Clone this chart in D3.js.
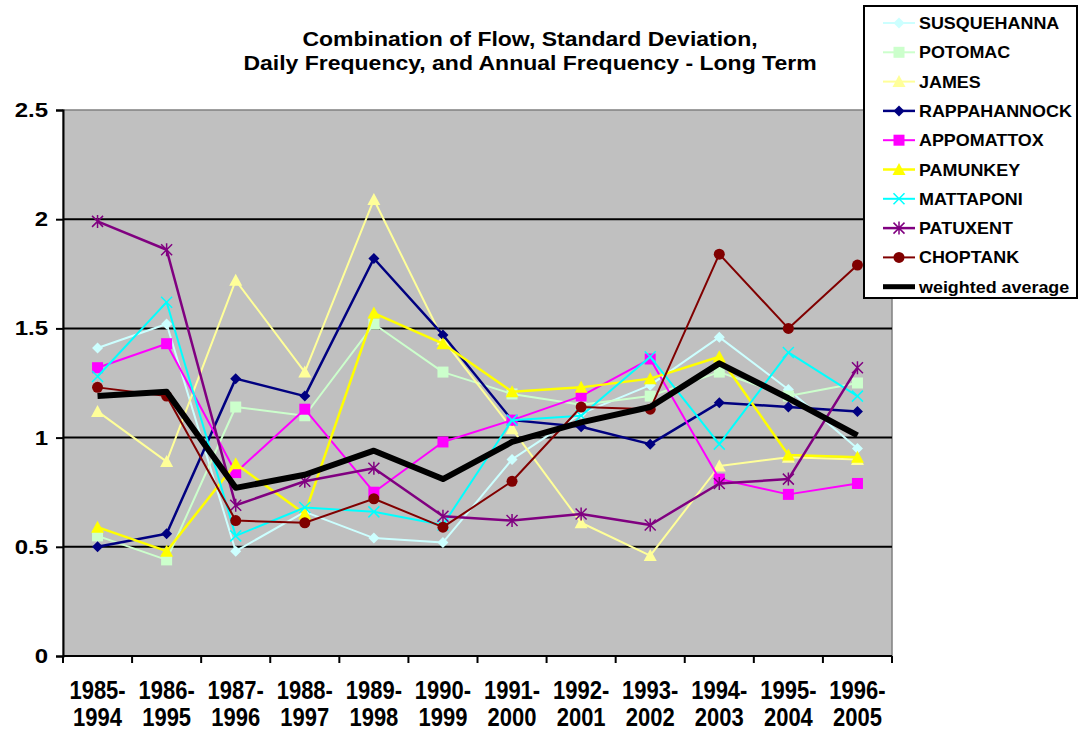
<!DOCTYPE html>
<html>
<head>
<meta charset="utf-8">
<script src="https://cdn.jsdelivr.net/npm/d3@7"></script>
<style>
  body { margin: 0; background: #fff; }
  text { font-family: Arial, "Liberation Sans", sans-serif; font-weight: bold; fill: #000; }
</style>
</head>
<body>
<div id="chart"></div>
<script>
// periods on the x axis (two lines each)
var periods = [
  ["1985-", "1994"], ["1986-", "1995"], ["1987-", "1996"], ["1988-", "1997"],
  ["1989-", "1998"], ["1990-", "1999"], ["1991-", "2000"], ["1992-", "2001"],
  ["1993-", "2002"], ["1994-", "2003"], ["1995-", "2004"], ["1996-", "2005"]
];
var yTicks = [0, 0.5, 1, 1.5, 2, 2.5];

var susquehanna  = [1.41, 1.52, 0.48, 0.66, 0.54, 0.52, 0.90, 1.11, 1.24, 1.46, 1.22, 0.95];
var potomac      = [0.55, 0.44, 1.14, 1.10, 1.52, 1.30, 1.20, 1.15, 1.19, 1.30, 1.19, 1.25];
var james        = [1.12, 0.89, 1.72, 1.30, 2.09, 1.45, 1.04, 0.61, 0.46, 0.87, 0.91, 0.90];
var rappahannock = [0.50, 0.56, 1.27, 1.19, 1.82, 1.47, 1.08, 1.05, 0.97, 1.16, 1.14, 1.12];
var appomattox   = [1.32, 1.43, 0.84, 1.13, 0.75, 0.98, 1.08, 1.19, 1.36, 0.81, 0.74, 0.79];
var pamunkey     = [0.59, 0.48, 0.88, 0.65, 1.57, 1.43, 1.21, 1.23, 1.27, 1.37, 0.92, 0.91];
var mattaponi    = [1.28, 1.62, 0.55, 0.68, 0.66, 0.60, 1.08, 1.10, 1.37, 0.97, 1.39, 1.19];
var patuxent     = [1.99, 1.86, 0.69, 0.80, 0.86, 0.64, 0.62, 0.65, 0.60, 0.79, 0.81, 1.32];
var choptank     = [1.23, 1.19, 0.62, 0.61, 0.72, 0.59, 0.80, 1.14, 1.13, 1.84, 1.50, 1.79];
var weighted     = [1.19, 1.21, 0.77, 0.83, 0.94, 0.81, 0.98, 1.07, 1.14, 1.34, 1.18, 1.01];

var series = [
  {name: "SUSQUEHANNA", values: susquehanna, color: "#CCFFFF", marker: "diamond", w: 2},
  {name: "POTOMAC", values: potomac, color: "#CCFFCC", marker: "square", w: 2},
  {name: "JAMES", values: james, color: "#FFFF99", marker: "triangle", w: 2},
  {name: "RAPPAHANNOCK", values: rappahannock, color: "#000080", marker: "diamond", w: 2.5},
  {name: "APPOMATTOX", values: appomattox, color: "#FF00FF", marker: "square", w: 2},
  {name: "PAMUNKEY", values: pamunkey, color: "#FFFF00", marker: "triangle", w: 2.5},
  {name: "MATTAPONI", values: mattaponi, color: "#00FFFF", marker: "x", w: 2},
  {name: "PATUXENT", values: patuxent, color: "#800080", marker: "star", w: 2.5},
  {name: "CHOPTANK", values: choptank, color: "#800000", marker: "circle", w: 2},
  {name: "weighted average", values: weighted, color: "#000000", marker: null, w: 6}
];

var W = 1079, H = 730;
var plot = {left: 63, top: 110, right: 892, bottom: 656};

var svg = d3.select("#chart").append("svg")
  .attr("width", W).attr("height", H);

var x = d3.scaleBand()
  .domain(d3.range(periods.length))
  .range([plot.left, plot.right]);

var y = d3.scaleLinear()
  .domain([0, 2.5])
  .range([plot.bottom, plot.top]);

// plot background
svg.append("rect")
  .attr("x", plot.left).attr("y", plot.top)
  .attr("width", plot.right - plot.left).attr("height", plot.bottom - plot.top)
  .attr("fill", "#C0C0C0").attr("stroke", "#808080").attr("stroke-width", 1.5);

// gridlines
svg.append("g").selectAll("line")
  .data(yTicks.filter(function(d){ return d > 0 && d < 2.5; }))
  .enter().append("line")
  .attr("x1", plot.left).attr("x2", plot.right)
  .attr("y1", function(d){ return y(d); }).attr("y2", function(d){ return y(d); })
  .attr("stroke", "#000").attr("stroke-width", 2);

// y axis
var yAxis = svg.append("g")
  .attr("transform", "translate(" + plot.left + ",0)")
  .call(d3.axisLeft(y).tickValues(yTicks).tickSize(7).tickPadding(8)
    .tickFormat(function(d){ return d; }));
yAxis.select(".domain").attr("stroke", "#000").attr("stroke-width", 2);
yAxis.selectAll(".tick line").attr("stroke", "#000").attr("stroke-width", 2);
yAxis.selectAll(".tick text")
  .style("font-size", "20px").style("font-family", "Arial, 'Liberation Sans', sans-serif")
  .style("font-weight", "bold").attr("fill", "#000")
  .attr("x", -12.5)
  .attr("transform", "scale(1.2,1)");

// x axis: ticks at category boundaries
var xAxisG = svg.append("g");
xAxisG.append("line")
  .attr("x1", plot.left).attr("x2", plot.right)
  .attr("y1", plot.bottom).attr("y2", plot.bottom)
  .attr("stroke", "#000").attr("stroke-width", 2);
xAxisG.selectAll(".xt")
  .data(d3.range(periods.length + 1))
  .enter().append("line")
  .attr("x1", function(i){ return i < periods.length ? x(i) : x.range()[1]; })
  .attr("x2", function(i){ return i < periods.length ? x(i) : x.range()[1]; })
  .attr("y1", plot.bottom).attr("y2", plot.bottom + 7)
  .attr("stroke", "#000").attr("stroke-width", 2);

var xl = xAxisG.selectAll(".xl")
  .data(periods)
  .enter().append("text")
  .attr("text-anchor", "middle")
  .style("font-size", "22px")
  .attr("transform", function(d, i){
    return "translate(" + (x(i) + x.bandwidth()/2) + ",0) scale(1,1.15)";
  });
xl.append("tspan").attr("x", 0).attr("y", 699/1.15).text(function(d){ return d[0]; });
xl.append("tspan").attr("x", 0).attr("y", 726/1.15).text(function(d){ return d[1]; });

// title
svg.append("text").attr("text-anchor", "middle")
  .attr("transform", "translate(530,46) scale(1.15,1)")
  .style("font-size", "20px").text("Combination of Flow, Standard Deviation,");
svg.append("text").attr("text-anchor", "middle")
  .attr("transform", "translate(530,70) scale(1.15,1)")
  .style("font-size", "20px").text("Daily Frequency, and Annual Frequency - Long Term");

var line = d3.line()
  .x(function(d, i){ return x(i) + x.bandwidth()/2; })
  .y(function(d){ return y(d); });

function drawMarker(g, type, color, cx, cy) {
  var s = 5.5;
  if (type === "diamond") {
    g.append("path").attr("d", "M" + cx + "," + (cy - s) + "L" + (cx + s) + "," + cy +
      "L" + cx + "," + (cy + s) + "L" + (cx - s) + "," + cy + "Z").attr("fill", color);
  } else if (type === "square") {
    g.append("rect").attr("x", cx - s).attr("y", cy - s).attr("width", 2*s).attr("height", 2*s)
      .attr("fill", color);
  } else if (type === "triangle") {
    g.append("path").attr("d", "M" + cx + "," + (cy - s - 1) + "L" + (cx + s + 1) + "," + (cy + s) +
      "L" + (cx - s - 1) + "," + (cy + s) + "Z").attr("fill", color);
  } else if (type === "circle") {
    g.append("circle").attr("cx", cx).attr("cy", cy).attr("r", s).attr("fill", color);
  } else if (type === "x") {
    g.append("path").attr("d", "M" + (cx - s) + "," + (cy - s) + "L" + (cx + s) + "," + (cy + s) +
      "M" + (cx + s) + "," + (cy - s) + "L" + (cx - s) + "," + (cy + s))
      .attr("stroke", color).attr("stroke-width", 1.5).attr("fill", "none");
  } else if (type === "star") {
    g.append("path").attr("d", "M" + (cx - s) + "," + (cy - s) + "L" + (cx + s) + "," + (cy + s) +
      "M" + (cx + s) + "," + (cy - s) + "L" + (cx - s) + "," + (cy + s) +
      "M" + cx + "," + (cy - s - 1) + "L" + cx + "," + (cy + s + 1))
      .attr("stroke", color).attr("stroke-width", 1.5).attr("fill", "none");
  }
}

series.forEach(function(s){
  var g = svg.append("g");
  g.append("path").datum(s.values)
    .attr("d", line)
    .attr("fill", "none").attr("stroke", s.color).attr("stroke-width", s.w)
    .attr("stroke-linejoin", "round");
  if (s.marker) {
    s.values.forEach(function(v, i){
      drawMarker(g, s.marker, s.color, x(i) + x.bandwidth()/2, y(v));
    });
  }
});

// legend
var lg = svg.append("g");
lg.append("rect").attr("x", 864).attr("y", 6).attr("width", 213).attr("height", 292)
  .attr("fill", "#fff").attr("stroke", "#000").attr("stroke-width", 2);
series.forEach(function(s, i){
  var ly = 23 + i * 29.3;
  lg.append("line").attr("x1", 883).attr("x2", 915).attr("y1", ly).attr("y2", ly)
    .attr("stroke", s.color).attr("stroke-width", s.marker ? s.w : 5);
  if (s.marker) drawMarker(lg, s.marker, s.color, 899, ly);
  lg.append("text").attr("transform", "translate(919," + (ly + 6) + ") scale(1.12,1)")
    .style("font-size", "16px").text(s.name);
});
</script>
</body>
</html>
